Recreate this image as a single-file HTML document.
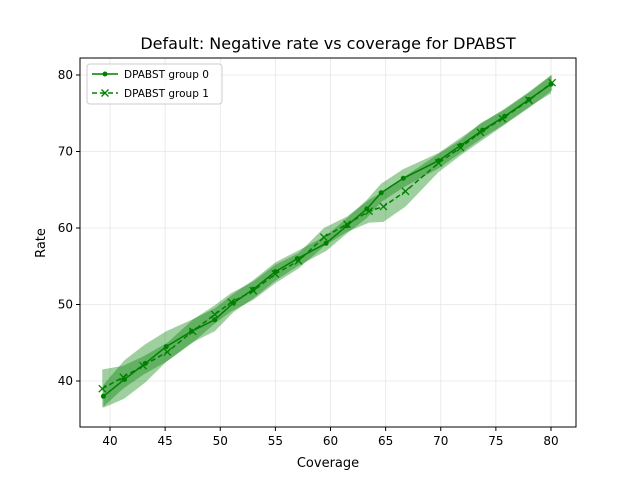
<!DOCTYPE html>
<html><head><meta charset="utf-8"><style>
body{margin:0;background:#fff;font-family:"Liberation Sans","DejaVu Sans",sans-serif}
svg text{font-family:"DejaVu Sans","Liberation Sans",sans-serif}
</style></head><body>
<svg id="chart" width="640" height="480" xmlns="http://www.w3.org/2000/svg">
<rect width="640" height="480" fill="#fff"/>
<g id="grid"></g><g id="bands"></g><g id="lines"></g><g id="axes"></g>
<text x="328" y="49" text-anchor="middle" font-size="16">Default: Negative rate vs coverage for DPABST</text>
<text x="328" y="467" text-anchor="middle" font-size="13">Coverage</text>
<text transform="translate(45,243) rotate(-90)" text-anchor="middle" font-size="13">Rate</text>
<g>
<rect x="87" y="64" width="135" height="40" rx="3" fill="#fff" fill-opacity="0.8" stroke="#ccc"/>
<line x1="92" y1="74" x2="118" y2="74" stroke="green" stroke-width="1.5"/><circle cx="105" cy="74" r="2.5" fill="green"/>
<text x="124" y="78" font-size="10.5">DPABST group 0</text>
<line x1="92" y1="93" x2="118" y2="93" stroke="green" stroke-width="1.5" stroke-dasharray="5,3"/>
<path d="M101.5,89.5l7,7M108.5,89.5l-7,7" stroke="green" stroke-width="1.3"/>
<text x="124" y="97" font-size="10.5">DPABST group 1</text>
</g>
</svg>
<script>
const xTicks=[40,45,50,55,60,65,70,75,80];
const yTicks=[40,50,60,70,80];
const g0x=[39.4,41.3,43.2,45.1,47.4,49.5,51.2,53.0,55.0,57.0,59.6,61.5,63.3,64.6,66.6,69.8,71.8,73.8,75.8,78.0,80.0];
const g0y=[38.0,40.2,42.3,44.5,46.5,48.0,50.2,52.0,54.3,56.0,58.0,60.3,62.5,64.6,66.5,68.8,70.8,72.8,74.6,76.8,78.8];
const g0err=[1.5,2.5,2.5,2,1.5,1.5,1.2,1.2,1.2,1.0,1.0,1.0,1.2,1.2,1.2,1.0,1.0,1.0,1.0,1.0,1.2];
const g1x=[39.3,41.2,43.0,45.2,47.5,49.5,51.0,53.0,55.0,57.1,59.4,61.5,63.5,64.8,66.8,69.8,71.8,73.6,75.6,78.0,80.1];
const g1y=[39.0,40.5,42.0,43.8,46.5,48.7,50.3,51.8,54.0,55.7,58.8,60.5,62.2,62.8,64.8,68.5,70.5,72.5,74.3,76.7,79.0];
const g1err=[2.5,1.5,1.2,1.2,1.5,1.2,1.2,1.2,1.2,1.0,1.2,1.0,1.5,2.0,2.0,1.2,1.0,1.2,1.0,1.0,1.0];
const L=80,R=576,T=58,B=427;
const X=v=>110+(v-40)*11.025, Y=v=>381-(v-40)*7.65;
const NS="http://www.w3.org/2000/svg";
function mk(p,t,a){const e=document.createElementNS(NS,t);for(const k in a)e.setAttribute(k,a[k]);document.getElementById(p).appendChild(e);return e;}
xTicks.forEach(t=>{
 const g=mk('grid','line',{x1:X(t),x2:X(t),y1:T,y2:B,stroke:'#e6e6e6','stroke-width':0.8});
 
 
 mk('axes','line',{x1:X(t),x2:X(t),y1:B,y2:B+4,stroke:'#000'});
 const tx=mk('axes','text',{x:X(t),y:B+18,'text-anchor':'middle','font-size':12});tx.textContent=t;
 
 
});
yTicks.forEach(t=>{
 const g=mk('grid','line',{x1:L,x2:R,y1:Y(t),y2:Y(t),stroke:'#e6e6e6','stroke-width':0.8});
 
 
 mk('axes','line',{x1:L-4,x2:L,y1:Y(t),y2:Y(t),stroke:'#000'});
 const tx=mk('axes','text',{x:L-7,y:Y(t)+4,'text-anchor':'end','font-size':12});tx.textContent=t;
 
 
});
const fr=mk('axes','rect',{x:L,y:T,width:R-L,height:B-T,fill:'none',stroke:'#000','stroke-width':1});


function band(xs,ys,er,name){
 let d='M'+xs.map((x,i)=>X(x)+','+Y(ys[i]+er[i])).join('L');
 for(let i=xs.length-1;i>=0;i--)d+='L'+X(xs[i])+','+Y(ys[i]-er[i]);
 const p=mk('bands','path',{d:d+'Z',fill:'green','fill-opacity':0.38,stroke:'none'});
 
 
}
band(g0x,g0y,g0err,'band-group-0');band(g1x,g1y,g1err,'band-group-1');
const l0=mk('lines','polyline',{points:g0x.map((x,i)=>X(x)+','+Y(g0y[i])).join(' '),fill:'none',stroke:'green','stroke-width':1.5});


const l1=mk('lines','polyline',{points:g1x.map((x,i)=>X(x)+','+Y(g1y[i])).join(' '),fill:'none',stroke:'green','stroke-width':1.5,'stroke-dasharray':'5,3'});


g0x.forEach((x,i)=>{const c=mk('lines','circle',{cx:X(x),cy:Y(g0y[i]),r:2.5,fill:'green'});
 
 });
g1x.forEach((x,i)=>{const cx=X(x),cy=Y(g1y[i]);
 const m=mk('lines','path',{d:`M${cx-3.5},${cy-3.5}l7,7M${cx+3.5},${cy-3.5}l-7,7`,stroke:'green','stroke-width':1.3});
 
 });
</script>
</body></html>
